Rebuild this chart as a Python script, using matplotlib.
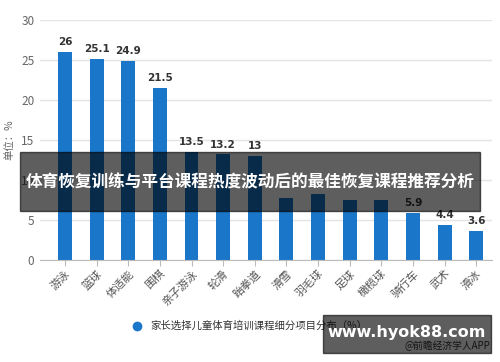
import matplotlib.pyplot as plt
from matplotlib.patches import Rectangle

plt.rcParams['font.family'] = ['Noto Sans CJK SC', 'DejaVu Sans']

categories = ['游泳', '篮球', '体适能', '围棋', '亲子游泳', '轮滑', '跆拳道',
              '滑雪', '羽毛球', '足球', '橄榄球', '骑行车', '武术', '滑冰']
values = [26, 25.1, 24.9, 21.5, 13.5, 13.2, 13, 7.8, 8.2, 7.5, 7.5, 5.9, 4.4, 3.6]
shown = [True] * 7 + [False] * 4 + [True] * 3
yticks = [0, 5, 10, 15, 20, 25, 30]
series_name = '家长选择儿童体育培训课程细分项目分布（%）'
banner = '体育恢复训练与平台课程热度波动后的最佳恢复课程推荐分析'

blue = '#1976c8'

fig = plt.figure(figsize=(5, 3.62), dpi=100)
ax = fig.add_axes([0.08, 0.2818, 0.904, 0.663])

x = range(len(categories))
ax.bar(x, values, width=0.44, color=blue, zorder=2)
for xi, v, s in zip(x, values, shown):
    if s:
        ax.text(xi, v + 0.6, f'{v:g}', ha='center', va='bottom',
                fontsize=7.5, fontweight='bold', color='#333333', family='DejaVu Sans')

ax.set_ylim(0, 30)
ax.set_xlim(-0.79, 13.5)
ax.set_yticks(yticks)
ax.grid(axis='y', color='#e4e4e4', linewidth=1, zorder=0)
ax.set_xticks(list(x))
ax.set_xticklabels(categories, rotation=45, ha='right', rotation_mode='anchor',
                   fontsize=8, color='#555555')
ax.tick_params(axis='y', length=0, labelsize=8.5, labelcolor='#666666', pad=4)
ax.tick_params(axis='x', length=4, color='#bbbbbb', pad=2)
for s in ['top', 'right', 'left']:
    ax.spines[s].set_visible(False)
ax.spines['bottom'].set_color('#bbbbbb')
ax.set_ylabel('单位：%', fontsize=7.5, color='#666666', labelpad=5)

# legend
fig.lines.append(plt.Line2D([137 / 500], [1 - 326 / 362], marker='o', markersize=6,
                            color=blue, linestyle='none', transform=fig.transFigure))
fig.text(150 / 500, 1 - 326 / 362, series_name, fontsize=7.5, color='#333333',
         va='center', ha='left')

# banner overlay
fig.patches.append(Rectangle((20 / 500, 1 - 211 / 362), 460 / 500, 59 / 362,
                             transform=fig.transFigure, color='black', alpha=0.63,
                             zorder=5))
fig.text(0.5, 1 - 182 / 362, banner, fontsize=12, fontweight='bold', color='white',
         ha='center', va='center', zorder=6)

# watermark box
fig.text(490 / 500, 1 - 346 / 362, '@前瞻经济学人APP', fontsize=7, color='#333333',
         ha='right', va='center', zorder=4)
fig.patches.append(Rectangle((323 / 500, 1 - 353 / 362), 168 / 500, 38 / 362,
                             transform=fig.transFigure, color='black', alpha=0.63,
                             zorder=5))
fig.text(407 / 500, 1 - 333 / 362, 'www.hyok88.com', fontsize=11.5, fontweight='bold',
         color='white', ha='center', va='center', family='DejaVu Sans', zorder=6)

plt.savefig('out.png', dpi=100)
